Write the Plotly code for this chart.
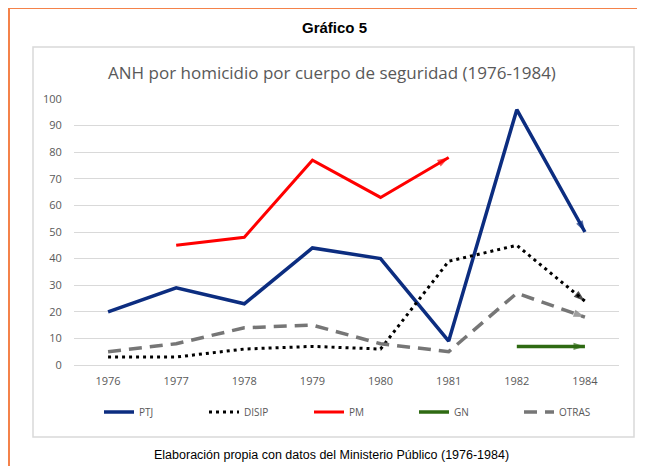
import plotly.graph_objects as go

years = ["1976", "1977", "1978", "1979", "1980", "1981", "1982", "1984"]
ptj = [20, 29, 23, 44, 40, 9, 96, 50]
disip = [3, 3, 6, 7, 6, 39, 45, 24]
pm = [None, 45, 48, 77, 63, 78, None, None]
gn = [None, None, None, None, None, None, 7, 7]
otras = [5, 8, 14, 15, 8, 5, 27, 18]

# the page body has an 8px margin; size the figure so that it lands where the reference is
OFF = 8
W, H = 629, 458
L, T = 74 - OFF, 99 - OFF
R = W - (619 - OFF)
B = H - (365 - OFF)
PW, PH = W - L - R, H - T - B


def px(x):
    return (x - OFF - L) / PW


def py(y):
    return (H - B - (y - OFF)) / PH


series = [
    ("PTJ", ptj, "#0c2d80", 3.5, "solid"),
    ("DISIP", disip, "#000000", 3, "3px,4px"),
    ("PM", pm, "#ff0000", 3, "solid"),
    ("GN", gn, "#2e6a12", 3.5, "solid"),
    ("OTRAS", otras, "#767676", 3.5, "13px,8px"),
]

fig = go.Figure()
for name, vals, color, width, dash in series:
    xs = [x for x, v in zip(years, vals) if v is not None]
    ys = [v for v in vals if v is not None]
    fig.add_trace(go.Scatter(
        x=xs, y=ys, name=name, mode="lines",
        line=dict(color=color, width=width, dash=dash),
    ))
    # arrow head at the final point
    fig.add_trace(go.Scatter(
        x=xs[-2:], y=ys[-2:], mode="markers", showlegend=False, hoverinfo="skip",
        marker=dict(symbol=["circle", "arrow"], size=[0, 12], color=color,
                    angleref="previous", line=dict(width=0)),
    ))

shapes = [
    dict(type="rect", xref="paper", yref="paper",
         x0=px(33), x1=px(634), y0=py(437), y1=py(47),
         line=dict(color="#d9d9d9", width=1.5), layer="below"),
    dict(type="line", xref="paper", yref="paper",
         x0=px(9), x1=px(645), y0=py(8), y1=py(8),
         line=dict(color="#f4824a", width=2), layer="below"),
    dict(type="line", xref="paper", yref="paper",
         x0=px(9), x1=px(9), y0=py(8), y1=py(474),
         line=dict(color="#f4824a", width=2), layer="below"),
]

annotations = [
    dict(text="<b>Gráfico 5</b>", xref="paper", yref="paper", x=px(334), y=py(28),
         xanchor="center", yanchor="middle", showarrow=False,
         font=dict(family="Liberation Sans, Arial", size=15, color="#000000")),
    dict(text="ANH por homicidio por cuerpo de seguridad (1976-1984)", xref="paper", yref="paper",
         x=px(332), y=py(72), xanchor="center", yanchor="middle", showarrow=False,
         font=dict(family="Open Sans", size=17, color="#595959")),
    dict(text="Elaboración propia con datos del Ministerio Público (1976-1984)", xref="paper",
         yref="paper", x=px(331), y=py(455), xanchor="center", yanchor="middle",
         showarrow=False,
         font=dict(family="Liberation Sans, Arial", size=12.5, color="#000000")),
]

fig.update_layout(
    width=W, height=H,
    margin=dict(l=L, r=R, t=T, b=B),
    paper_bgcolor="white", plot_bgcolor="white",
    shapes=shapes, annotations=annotations,
    font=dict(family="Open Sans", color="#595959"),
    showlegend=True,
    legend=dict(orientation="h", x=px(99), y=py(412), xanchor="left", yanchor="middle",
                entrywidth=60, entrywidthmode="pixels",
                font=dict(family="Open Sans", size=10, color="#595959"),
                bgcolor="rgba(0,0,0,0)"),
    xaxis=dict(type="category", categoryorder="array", categoryarray=years,
               range=[-0.5, 7.5], showgrid=False, showline=True, linecolor="#d9d9d9",
               linewidth=1, ticks="outside", ticklen=6, tickcolor="rgba(0,0,0,0)",
               tickfont=dict(family="Open Sans", size=11, color="#595959"), fixedrange=True),
    yaxis=dict(range=[0, 100], dtick=10, showgrid=True, gridcolor="#d9d9d9", gridwidth=1,
               zeroline=False, ticks="outside", ticklen=9, tickcolor="rgba(0,0,0,0)",
               tickfont=dict(family="Open Sans", size=11, color="#595959"), fixedrange=True),
)

fig.write_html("out.html")
